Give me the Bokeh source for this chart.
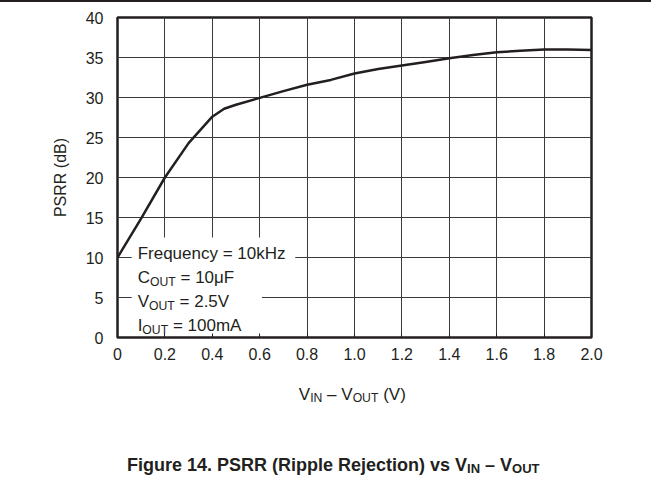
from bokeh.plotting import figure
from bokeh.models import FixedTicker, Label, Range1d, Div
from bokeh.layouts import column
from bokeh.embed import file_html
from bokeh.resources import INLINE

# ---- data ----
vdiff = [0.0, 0.1, 0.2, 0.3, 0.4, 0.45, 0.5, 0.6, 0.7, 0.8, 0.9, 1.0,
         1.1, 1.2, 1.3, 1.4, 1.5, 1.6, 1.7, 1.8, 1.9, 2.0]
psrr = [10.0, 14.9, 20.0, 24.3, 27.6, 28.6, 29.1, 29.95, 30.8, 31.6, 32.2, 33.0,
        33.55, 34.0, 34.45, 34.9, 35.3, 35.65, 35.85, 36.0, 36.0, 35.95]
x_ticks = [0.0, 0.2, 0.4, 0.6, 0.8, 1.0, 1.2, 1.4, 1.6, 1.8, 2.0]
x_tick_labels = ["0", "0.2", "0.4", "0.6", "0.8", "1.0", "1.2", "1.4", "1.6", "1.8", "2.0"]
y_ticks = [0, 5, 10, 15, 20, 25, 30, 35, 40]

INK = "#231f20"
FONT = "Liberation Sans"
NB = "\u00a0"

# Arial / Liberation Sans advance widths (per 1000 em)
REG = {NB: 278, ' ': 278, '(': 333, ')': 333, '.': 278, '=': 584, '–': 556, 'μ': 577,
       'A': 667, 'C': 722, 'F': 611, 'H': 722, 'I': 278, 'N': 722, 'O': 778,
       'T': 611, 'U': 722, 'V': 667, 'a': 556, 'c': 500, 'e': 556, 'k': 500,
       'm': 833, 'n': 556, 'q': 556, 'r': 333, 'u': 556, 'y': 500, 'z': 500}
BOLD = {NB: 278, ' ': 278, '(': 333, ')': 333, '.': 278, '–': 556, 'F': 611, 'I': 278,
        'N': 722, 'O': 778, 'P': 667, 'R': 722, 'S': 667, 'T': 611, 'U': 722,
        'V': 667, 'c': 556, 'e': 556, 'g': 611, 'i': 278, 'j': 278, 'l': 278,
        'n': 611, 'o': 611, 'p': 611, 'r': 389, 's': 556, 't': 333, 'u': 611,
        'v': 556}


def width(txt, size, bold=False):
    tab = BOLD if bold else REG
    return sum(tab.get(ch, 556) for ch in txt) * size / 1000.0


def rich(fig, x, y, parts, size, bold=False, sub_drop=4):
    """parts: list of (text, is_subscript)"""
    off = 0.0
    for txt, sub in parts:
        s = size * 0.72 if sub else size
        fig.add_layout(Label(x=x, y=y, x_offset=off, y_offset=(-sub_drop if sub else 0),
                             text=txt, text_font=FONT, text_font_size=f"{s:.1f}px",
                             text_font_style=("bold" if bold else "normal"),
                             text_color=INK, text_baseline="alphabetic",
                             text_align="left"))
        off += width(txt, s, bold)


# ---- top rule ----
rule = Div(text="", width=651, height=2,
           styles={"background-color": INK, "margin": "0", "padding": "0"})

# ---- main chart ----
p = figure(width=651, height=368, x_range=Range1d(0, 2), y_range=Range1d(0, 40),
           output_backend="svg", toolbar_location=None,
           min_border_left=117, min_border_right=60, min_border_top=15,
           min_border_bottom=33)
p.background_fill_color = "white"
p.border_fill_color = "white"
p.outline_line_color = INK
p.outline_line_width = 2.5

p.xgrid.ticker = FixedTicker(ticks=x_ticks)
p.ygrid.ticker = FixedTicker(ticks=y_ticks)
for g in (p.xgrid, p.ygrid):
    g.grid_line_color = "#3a3a3a"
    g.grid_line_width = 1

p.xaxis.ticker = FixedTicker(ticks=x_ticks)
p.xaxis.major_label_overrides = {t: l for t, l in zip(x_ticks, x_tick_labels)}
p.yaxis.ticker = FixedTicker(ticks=y_ticks)
for ax in (p.xaxis, p.yaxis):
    ax.axis_line_color = None
    ax.minor_tick_line_color = None
    ax.major_tick_out = 0
    ax.major_label_text_font = FONT
    ax.major_label_text_font_size = "16px"
    ax.major_label_text_color = INK
    ax.axis_label_text_font = FONT
    ax.axis_label_text_font_size = "16px"
    ax.axis_label_text_font_style = "normal"
    ax.axis_label_text_color = INK
p.xaxis.major_tick_in = 4
p.xaxis.major_tick_line_color = INK
p.xaxis.major_label_standoff = 10
p.yaxis.major_tick_in = 0
p.yaxis.major_label_standoff = 14
p.yaxis.axis_label = "PSRR (dB)"
p.yaxis.axis_label_standoff = 14

# white area behind the condition notes
p.quad(left=[0.06, 0.6], right=[0.61, 0.75], bottom=[0.4, 9.2], top=[12.5, 12.2],
       fill_color="white", line_color=None)

p.line(vdiff, psrr, line_width=2.5, line_color=INK)

rich(p, 0.085, 10.5, [("Frequency = 10kHz", False)], 17)
rich(p, 0.085, 7.5, [("C", False), ("OUT", True), (NB + "= 10μF", False)], 17)
rich(p, 0.085, 4.5, [("V", False), ("OUT", True), (NB + "= 2.5V", False)], 17)
rich(p, 0.085, 1.5, [("I", False), ("OUT", True), (NB + "= 100mA", False)], 17)

# ---- bottom texts (x-axis title and caption); same horizontal frame as p ----
q = figure(width=651, height=109, output_backend="svg", toolbar_location=None,
           x_range=Range1d(0, 2), y_range=Range1d(-17.75, -4.125),
           min_border_left=117, min_border_right=60, min_border_top=0,
           min_border_bottom=0)
q.axis.visible = False
q.grid.visible = False
q.outline_line_color = None
q.background_fill_color = "white"
q.border_fill_color = "white"

rich(q, 0.765, -7.1, [("V", False), ("IN", True), (NB + "–" + NB + "V", False),
                      ("OUT", True), (NB + "(V)", False)], 17)
rich(q, 0.04, -15.9, [("Figure 14. PSRR (Ripple Rejection) vs V", False),
                      ("IN", True), (NB + "–" + NB + "V", False), ("OUT", True)],
     18, bold=True, sub_drop=4)

layout = column(rule, p, q, spacing=0)
open("out.html", "w").write(file_html(layout, INLINE))
